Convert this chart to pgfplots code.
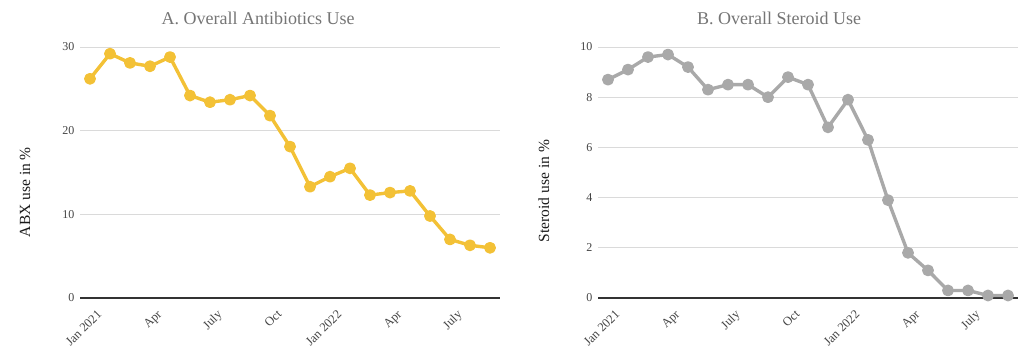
\documentclass[border=0pt]{standalone}
\usepackage{fontspec}
\setmainfont{Liberation Serif}
\usepackage{pgfplots}
\pgfplotsset{compat=1.18}
\definecolor{abx}{HTML}{F3C136}
\definecolor{ster}{HTML}{A9A9A9}
\definecolor{gridc}{HTML}{DADADA}
\definecolor{titlec}{HTML}{757575}
\definecolor{tickc}{HTML}{444444}
\pgfplotsset{
  panel/.style={
    scale only axis, width=420pt, height=251pt,
    anchor=south west,
    xmin=-0.5, xmax=20.5, ymin=0,
    axis line style={draw=none},
    major tick length=0pt,
    ymajorgrids, grid style={gridc, line width=0.9pt},
    xtick={0,3,6,9,12,15,18},
    xticklabels={Jan 2021,Apr,July,Oct,Jan 2022,Apr,July},
    xticklabel style={rotate=45, anchor=north east, font=\fontsize{12.5}{14}\selectfont, text=tickc, xshift=0pt, yshift=-9pt},
    yticklabel style={font=\fontsize{12}{14}\selectfont, text=tickc, xshift=-2pt},
    /pgf/number format/assume math mode=true,
    title style={font=\fontsize{18}{20}\selectfont, text=titlec, anchor=center},
    ylabel style={font=\fontsize{15.5}{17}\selectfont, text=black!90, anchor=center},
    clip=false,
  },
}
\begin{document}
\begin{tikzpicture}
\path[use as bounding box] (0,0) rectangle (1024pt,354pt);
\begin{axis}[panel, at={(80pt,56pt)}, ymax=30, ytick={0,10,20,30},
  title={A. Overall Antibiotics Use}, title style={at={(0.424,1.09)}},
  ylabel={ABX use in \%}, ylabel style={at={(-0.131,0.422)}}]
\draw[black!80, line width=1.3pt] (axis cs:-0.5,0) -- (axis cs:20.5,0);
\addplot[abx, line width=3.4pt, mark=*, mark size=4.2pt, line join=round] coordinates {
(0,26.2) (1,29.2) (2,28.1) (3,27.7) (4,28.8) (5,24.2) (6,23.4) (7,23.7)
(8,24.2) (9,21.8) (10,18.1) (11,13.3) (12,14.5) (13,15.5) (14,12.3)
(15,12.6) (16,12.8) (17,9.8) (18,7.0) (19,6.3) (20,6.0)};
\end{axis}
\begin{axis}[panel, at={(598pt,56pt)}, ymax=10, ytick={0,2,4,6,8,10},
  title={B. Overall Steroid Use}, title style={at={(0.431,1.09)}},
  ylabel={Steroid use in \%}, ylabel style={at={(-0.129,0.426)}}]
\draw[black!80, line width=1.3pt] (axis cs:-0.5,0) -- (axis cs:20.5,0);
\addplot[ster, line width=3.4pt, mark=*, mark size=4.2pt, line join=round] coordinates {
(0,8.7) (1,9.1) (2,9.6) (3,9.7) (4,9.2) (5,8.3) (6,8.5) (7,8.5)
(8,8.0) (9,8.8) (10,8.5) (11,6.8) (12,7.9) (13,6.3) (14,3.9)
(15,1.8) (16,1.1) (17,0.3) (18,0.3) (19,0.1) (20,0.1)};
\end{axis}
\end{tikzpicture}
\end{document}
